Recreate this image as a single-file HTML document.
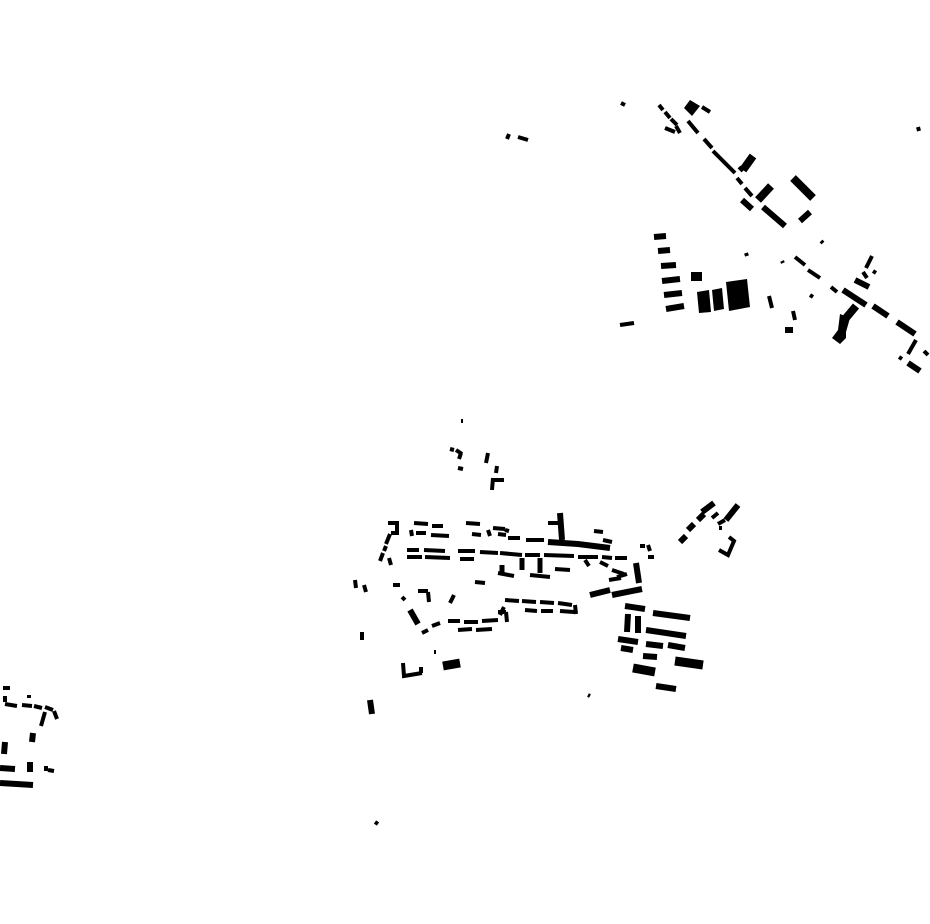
<!DOCTYPE html>
<html><head><style>html,body{margin:0;padding:0;background:#fff}svg{display:block}</style></head>
<body>
<svg width="930" height="924" viewBox="0 0 930 924" xmlns="http://www.w3.org/2000/svg">
<g stroke="#000" fill="none" stroke-linecap="butt">
<!-- top right cluster -->
<g stroke-width="4">
<path d="M621 103l4 2M659 105l4 5M665 112l5 6M671 119l6 6M665 128l10 4M676 126l4 7M702 107l8 5"/>
<path d="M688 121l10 12M704 139l8 9M713 151l22 22M737 178l5 6M745 188l7 8M739 167l4 4"/>
<path d="M821 241l2 2M746 253l1 3M782 261l1 2M918 127l1 4"/>
<path d="M795 257l10 8M808 270l12 8M831 287l6 5M810 295l3 2M873 271l3 2M866 268l6-12M863 272l4 6"/>
<path d="M916 340l-8 14M899 357l3 2M924 351l4 4"/>
<path d="M769 296l3 12M793 311l2 9M620 325l14-2"/>
</g>
<g stroke-width="6">
<path d="M742 200l10 9M763 207l22 19M800 221l10-9M843 290l23 15M873 306l15 10M897 322l18 12M855 280l14 7M908 363l12 8M798 260l0 0"/>
<path d="M654 237l12-1M658 251l12-1M661 266l15-1M662 281l18-2M664 295l18-2M666 309l18-3M785 330l8 0"/>
</g>
<g stroke-width="8">
<path d="M743 170l10-14M758 200l13-14M793 178l20 20M846 318l10-12"/>
</g>
<polygon points="684,108 690,100 700,106 692,116" fill="#000" stroke="none"/>
<rect x="691" y="272" width="11" height="9" fill="#000" stroke="none"/>
<polygon points="697,292 709,290 711,312 699,313" fill="#000" stroke="none"/>
<polygon points="712,290 722,288 724,309 714,311" fill="#000" stroke="none"/>
<polygon points="726,282 747,279 750,307 729,311" fill="#000" stroke="none"/>
<polygon points="840,314 850,318 846,332 846,338 840,344 832,338 838,330" fill="#000" stroke="none"/>
<!-- small upper center -->
<g stroke-width="4">
<path d="M507 139l2-5M518 137l10 3M461 421l2 0M450 449l4 1M456 450l6 4M461 453l-2 6M458 468l5 1M488 453l-2 10M497 466l-1 7M493 478l-1 12M494 480l10 0M375 822l3 2"/>
</g>
<!-- main center -->
<g stroke-width="4">
<path d="M388 523l9 0 0 10-6 0M390 534l-4 10M386 546l-2 5M383 553l-3 8M389 558l2 7"/>
<path d="M414 523l14 1M432 526l11 0M411 530l1 6M416 533l10 0M431 535l18 1M466 523l14 1M472 534l9 1M488 530l2 6M493 528l12 1M505 530l4 1M498 534l8 1M508 538l12 0M526 540l18 0M548 523l12 0M594 531l9 1M603 540l9 2"/>
<path d="M407 550l12 0M424 550l21 1M407 557l15 0M425 557l25 1M458 551l17 0M460 559l14 0M480 552l18 1M500 553l22 2M525 555l15 0M544 555l30 1M578 557l20 0M602 557l10 1M615 558l12 0"/>
<path d="M498 573l16 3M530 575l20 2M555 569l15 1M585 560l4 6M600 562l8 4M612 570l12 4M609 580l12-2M617 577l10-3"/>
<path d="M475 582l10 1M393 585l7 0M402 597l3 3M418 591l10 0M428 592l1 10M355 580l1 8M364 585l2 7M450 603l4-8M362 632l0 8M434 652l2 0M588 695l2 1"/>
<path d="M422 633l6-3M432 626l8-3M448 621l12 0M464 622l14 0M482 621l16-1M458 630l14-1M476 630l16-1M498 612l8 0M500 615l4-8M505 600l14 1M522 601l14 1M540 602l14 1M558 603l14 2M525 610l12 1M541 611l12 0M560 611l14 1M575 605l1 9M506 612l1 10"/>
<path d="M403 663l1 13 18-3M421 673l0-6M640 546l5 0M648 545l2 6M648 557l6 0"/>
<path d="M712 518l6-5M718 524l7-4M722 528l-3 0M729 537l5 4-6 14-9-5"/>
</g>
<g stroke-width="6">
<path d="M548 542l30 2 32 4M410 610l8 14M560 513l2 27M636 563l3 20M590 595l20-5M612 595l30-6M625 606l20 3M653 613l37 5M628 614l-1 18M638 616l0 17M646 630l40 6M618 639l20 3M621 648l12 2M646 644l17 2M668 645l17 3M643 656l14 1M656 686l20 3M680 542l6-6M688 530l6-6M698 520l6-6M702 512l12-9M726 520l12-15M370 700l2 14"/>
</g>
<g stroke-width="9">
<path d="M675 661l28 4M633 668l22 4M443 666l17-3"/>
</g>
<path d="M502 565l0 8M522 558l0 12M540 558l0 15" stroke-width="5"/>
<!-- bottom left -->
<g stroke-width="4">
<path d="M3 688l7 0M5 696l0 6M5 704l12 2M22 705l10 1M34 706l8 2M45 707l8 3M45 712l-4 14M54 711l3 8M29 695l0 3M46 766l0 5M48 770l6 1"/>
</g>
<g stroke-width="6">
<path d="M5 742l-1 12M0 768l15 1M30 762l0 10M33 733l-1 9M0 783l33 2"/>
</g>
</g>
</svg>
</body></html>
